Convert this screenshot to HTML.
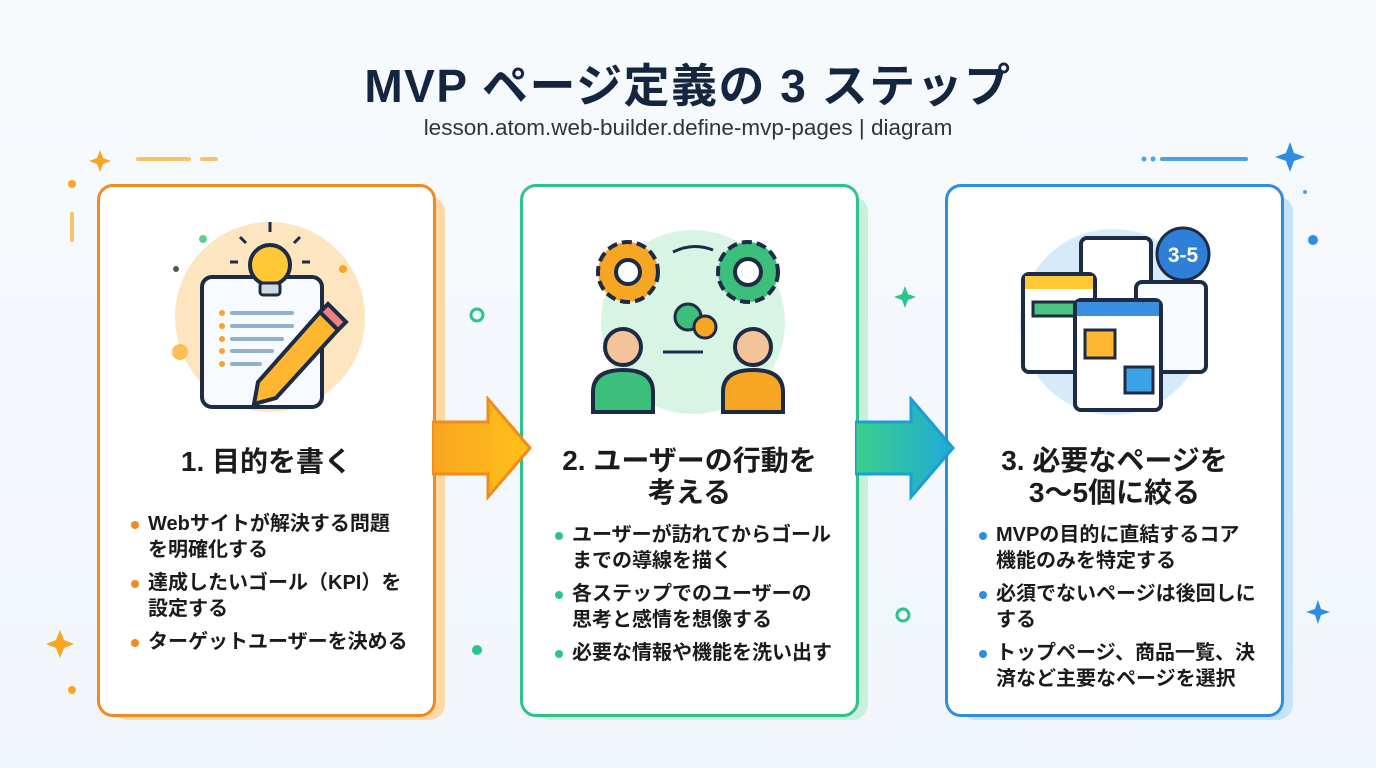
<!DOCTYPE html>
<html><head><meta charset="utf-8">
<style>
body{margin:0;width:1376px;height:768px;overflow:hidden;background:linear-gradient(180deg,#f7fafd,#f1f6fb);font-family:"Liberation Sans","Noto Sans CJK JP",sans-serif;position:relative}
.t{position:absolute;left:0;width:1376px;text-align:center;color:#15253f}
.card{position:absolute;top:184px;width:333px;height:527px;border:3px solid;border-radius:16px;background:#fff;box-sizing:content-box}
.sh{position:absolute;top:196px;width:333px;height:524px;border-radius:16px}
.h{position:absolute;left:0;width:100%;text-align:center;font-weight:bold;font-size:28px;color:#1b1b1b;line-height:32px}
ul{position:absolute;margin:0;padding:0;list-style:none;font-weight:bold;font-size:20px;color:#1b1b1b;line-height:26px;white-space:nowrap}
li{position:relative;padding-left:0;margin-bottom:7px}
li:before{content:"";position:absolute;left:-17px;top:10px;width:8px;height:8px;border-radius:50%;background:var(--c)}
.arr{position:absolute;z-index:5}
</style></head><body>
<div class="t" style="top:50px;font-size:46px;font-weight:bold;letter-spacing:1.5px">MVP ページ定義の 3 ステップ</div>
<div class="t" style="top:115px;font-size:22.5px;color:#333">lesson.atom.web-builder.define-mvp-pages | diagram</div>

<svg style="position:absolute;left:0;top:0" width="1376" height="768">
<path d="M100 150l3 8 8 3-8 3-3 8-3-8-8-3 8-3z" fill="#f6a623"/>
<rect x="136" y="157" width="55" height="4" rx="2" fill="#f8c26a"/><rect x="200" y="157" width="18" height="4" rx="2" fill="#f8c26a"/>
<circle cx="72" cy="184" r="4" fill="#f6a623"/><rect x="70" y="212" width="4" height="30" rx="2" fill="#f8c26a"/>
<path d="M60 630l4 10 10 4-10 4-4 10-4-10-10-4 10-4z" fill="#f6a623"/>
<circle cx="72" cy="690" r="4" fill="#f6a623"/>
<rect x="1160" y="157" width="88" height="4" rx="2" fill="#4aa3e6"/><circle cx="1144" cy="159" r="2.5" fill="#4aa3e6"/><circle cx="1153" cy="159" r="2.5" fill="#4aa3e6"/>
<path d="M1290 142l4 11 11 4-11 4-4 11-4-11-11-4 11-4z" fill="#2f8de0"/>
<circle cx="1313" cy="240" r="5" fill="#2f8de0"/><circle cx="1305" cy="192" r="2" fill="#4aa3e6"/>
<path d="M1318 600l3 9 9 3-9 3-3 9-3-9-9-3 9-3z" fill="#2f8de0"/>
<circle cx="477" cy="315" r="6" fill="none" stroke="#2bc48a" stroke-width="3"/>
<circle cx="477" cy="650" r="5" fill="#2bc48a"/>
<circle cx="903" cy="615" r="6" fill="none" stroke="#2bc48a" stroke-width="3"/>
<path d="M905 286l3 8 8 3-8 3-3 8-3-8-8-3 8-3z" fill="#2bc48a"/>
</svg>

<div class="sh" style="left:112px;background:#fdd9a8"></div>
<div class="sh" style="left:535px;background:#c8f0dc"></div>
<div class="sh" style="left:960px;background:#c6e3fa"></div>

<svg class="arr" style="left:432px;top:396px" width="104" height="108"><defs><linearGradient id="g1"><stop offset="0" stop-color="#f8a51e"/><stop offset="1" stop-color="#ffc21a"/></linearGradient></defs><path d="M0 26H56V3L98 52 56 101V78H0z" fill="url(#g1)" stroke="#f28a1c" stroke-width="3"/></svg>
<svg class="arr" style="left:855px;top:396px" width="104" height="108"><defs><linearGradient id="g2"><stop offset="0" stop-color="#3cd18a"/><stop offset="1" stop-color="#1fa9d8"/></linearGradient></defs><path d="M0 26H56V3L98 52 56 101V78H0z" fill="url(#g2)" stroke="#1b9ed4" stroke-width="3"/></svg>

<div class="card" style="left:97px;border-color:#f08a22">
 <svg style="position:absolute;left:60px;top:30px" width="220" height="220">
  <circle cx="110" cy="100" r="95" fill="#fde6bf"/>
  <rect x="42" y="60" width="120" height="130" rx="10" fill="#f7fbff" stroke="#1d2b44" stroke-width="4"/>
  <g fill="#f6a623"><circle cx="62" cy="96" r="3"/><circle cx="62" cy="109" r="3"/><circle cx="62" cy="122" r="3"/><circle cx="62" cy="134" r="3"/><circle cx="62" cy="147" r="3"/></g>
  <g stroke="#8fb0cf" stroke-width="4" stroke-linecap="round"><path d="M72 96h60M72 109h60M72 122h50M72 134h40M72 147h28"/></g>
  <circle cx="110" cy="48" r="20" fill="#ffc835" stroke="#1d2b44" stroke-width="4"/><rect x="100" y="66" width="20" height="12" rx="3" fill="#cfd8e3" stroke="#1d2b44" stroke-width="3"/>
  <path d="M110 5v10M80 20l6 6M140 20l-6 6M70 45h8M142 45h8" stroke="#1d2b44" stroke-width="3"/>
  <path d="M160 95l18 18-62 68-22 6 4-22z" fill="#ffb732" stroke="#1d2b44" stroke-width="4"/>
  <path d="M160 95l8-8 18 18-8 8z" fill="#f08080" stroke="#1d2b44" stroke-width="4"/>
  <circle cx="20" cy="135" r="8" fill="#fbbf55"/><circle cx="183" cy="52" r="4" fill="#f6a623"/><circle cx="43" cy="22" r="4" fill="#5ecf93"/><circle cx="16" cy="52" r="3" fill="#555"/>
 </svg>
 <div class="h" style="top:259px">1. 目的を書く</div>
 <ul style="left:48px;top:324px;--c:#f08a22"><li>Webサイトが解決する問題<br>を明確化する</li><li>達成したいゴール（KPI）を<br>設定する</li><li>ターゲットユーザーを決める</li></ul>
</div>

<div class="card" style="left:520px;border-color:#2bc48a">
 <svg style="position:absolute;left:60px;top:35px" width="220" height="200">
  <circle cx="110" cy="100" r="92" fill="#d7f4e4"/>
  <circle cx="45" cy="50" r="30" fill="#f6a623" stroke="#1d2b44" stroke-width="4" stroke-dasharray="10 5"/><circle cx="45" cy="50" r="12" fill="#fff" stroke="#1d2b44" stroke-width="4"/>
  <circle cx="165" cy="50" r="30" fill="#3cbf7a" stroke="#1d2b44" stroke-width="4" stroke-dasharray="10 5"/><circle cx="165" cy="50" r="13" fill="#fff" stroke="#1d2b44" stroke-width="4"/>
  <circle cx="105" cy="95" r="13" fill="#3cbf7a" stroke="#1d2b44" stroke-width="3"/><circle cx="122" cy="105" r="11" fill="#f6a623" stroke="#1d2b44" stroke-width="3"/>
  <path d="M10 190v-20q0-22 30-22t30 22v20z" fill="#3cbf7a" stroke="#1d2b44" stroke-width="4"/><circle cx="40" cy="125" r="18" fill="#f5c39a" stroke="#1d2b44" stroke-width="4"/>
  <path d="M140 190v-20q0-22 30-22t30 22v20z" fill="#f6a623" stroke="#1d2b44" stroke-width="4"/><circle cx="170" cy="125" r="18" fill="#f5c39a" stroke="#1d2b44" stroke-width="4"/>
  <path d="M80 130h40M90 30q20-10 40-2" stroke="#1d2b44" stroke-width="3" fill="none"/>
 </svg>
 <div class="h" style="top:258px">2. ユーザーの行動を<br>考える</div>
 <ul style="left:49px;top:335px;--c:#2bc48a"><li>ユーザーが訪れてからゴール<br>までの導線を描く</li><li>各ステップでのユーザーの<br>思考と感情を想像する</li><li>必要な情報や機能を洗い出す</li></ul>
</div>

<div class="card" style="left:945px;border-color:#2f8de0">
 <svg style="position:absolute;left:45px;top:35px" width="240" height="200">
  <circle cx="120" cy="100" r="93" fill="#d6ebfa"/>
  <rect x="88" y="16" width="70" height="90" rx="6" fill="#fff" stroke="#1d2b44" stroke-width="4"/>
  <rect x="143" y="60" width="70" height="90" rx="6" fill="#f7fbff" stroke="#1d2b44" stroke-width="4"/>
  <rect x="30" y="52" width="72" height="98" rx="6" fill="#fff" stroke="#1d2b44" stroke-width="4"/><rect x="32" y="54" width="68" height="13" fill="#ffc835"/>
  <rect x="40" y="80" width="50" height="14" fill="#4dc47e" stroke="#1d2b44" stroke-width="3"/>
  <rect x="82" y="78" width="86" height="110" rx="6" fill="#fff" stroke="#1d2b44" stroke-width="4"/><rect x="84" y="80" width="82" height="14" fill="#3a8fe0"/>
  <rect x="92" y="108" width="30" height="28" fill="#ffb732" stroke="#1d2b44" stroke-width="3"/><rect x="132" y="145" width="28" height="26" fill="#3aa3e6" stroke="#1d2b44" stroke-width="3"/>
  <circle cx="190" cy="32" r="26" fill="#2f7fd8" stroke="#1d2b44" stroke-width="3"/>
  <text x="190" y="40" text-anchor="middle" font-size="21" font-weight="bold" fill="#fff" font-family="Liberation Sans">3-5</text>
 </svg>
 <div class="h" style="top:258px">3. 必要なページを<br>3〜5個に絞る</div>
 <ul style="left:48px;top:335px;--c:#2f8de0"><li>MVPの目的に直結するコア<br>機能のみを特定する</li><li>必須でないページは後回しに<br>する</li><li>トップページ、商品一覧、決<br>済など主要なページを選択</li></ul>
</div>
</body></html>
